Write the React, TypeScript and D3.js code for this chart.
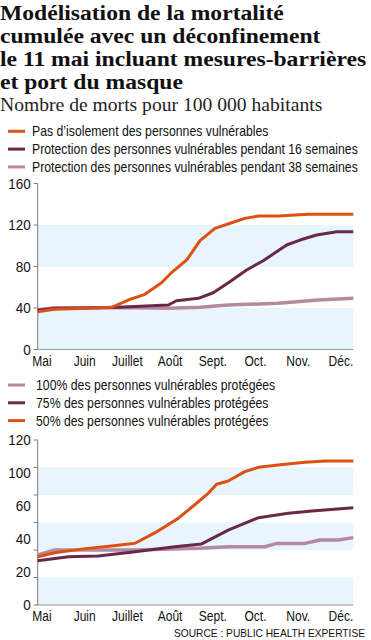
import * as d3 from "d3";

const MONTHS = ["Mai", "Juin", "Juillet", "Août", "Sept.", "Oct.", "Nov.", "Déc."];

// x = month index (0 = Mai), y = deaths per 100 000
const topNoIsolation: [number, number][] = [
  [-0.1, 36.4], [0.3, 38.7], [1.01, 39.7], [1.63, 40.7], [2.02, 47.7], [2.41, 53.2],
  [2.8, 64.4], [3.04, 74.4], [3.39, 86.3], [3.7, 105], [4.05, 116.8], [4.44, 122.2],
  [4.75, 126.4], [5.07, 128.7], [5.53, 128.7], [6.24, 130.3], [7.29, 130.3],
];
const top16Weeks: [number, number][] = [
  [-0.1, 37.8], [0.3, 39.6], [1.63, 40.5], [2.96, 42.9], [3.15, 47], [3.66, 49.3],
  [4.01, 54.7], [4.4, 65.4], [4.79, 76.6], [5.18, 85.6], [5.73, 100.7], [6.04, 105.5],
  [6.43, 110.4], [6.9, 113.5], [7.29, 113.5],
];
const top38Weeks: [number, number][] = [
  [-0.1, 38.3], [0.3, 40.2], [2.2, 40.2], [2.95, 39.8], [3.7, 40.7], [4.36, 42.9],
  [5.53, 44.5], [6.47, 47.7], [7.29, 49.3],
];

const bottom50: [number, number][] = [
  [-0.1, 35.1], [0.3, 38], [1.01, 41], [1.63, 42.9], [2.18, 44.9], [2.65, 52.6],
  [3.19, 63], [3.62, 74], [3.89, 81.2], [4.09, 87.8], [4.36, 90.2], [4.75, 97],
  [5.07, 100.1], [5.53, 101.8], [6.16, 103.8], [6.63, 104.7], [7.29, 104.7],
];
const bottom75: [number, number][] = [
  [-0.1, 32.2], [0.62, 35.1], [1.32, 35.6], [2.18, 38.8], [3.11, 42.4], [3.74, 44.4],
  [4.36, 54.5], [5.07, 63.5], [5.77, 66.7], [6.32, 68.4], [7.29, 70.8],
];
const bottom100: [number, number][] = [
  [-0.1, 36.4], [0.3, 40], [2.18, 40], [3.7, 41.2], [4.36, 42.4], [5.22, 42.4],
  [5.5, 44.8], [6.16, 44.8], [6.51, 47.3], [6.94, 47.3], [7.29, 49],
];

const TOP_TICKS = [0, 40, 80, 120, 160];
const TOP_BANDS: [number, number][] = [[0, 40], [80, 120]];
const BOTTOM_TICKS = [0, 20, 40, 60, 80, 100, 120];
// the printed labels skip 80 and are spread evenly along the axis
const BOTTOM_LABELS = ["0", "20", "40", "60", "100", "120"];
const BOTTOM_BANDS: [number, number][] = [[0, 20], [40, 60], [80, 100]];

const TITLE = [
  "Modélisation de la mortalité",
  "cumulée avec un déconfinement",
  "le 11 mai incluant mesures-barrières",
  "et port du masque",
];
const SUBTITLE = "Nombre de morts pour 100 000 habitants";
const SOURCE = "SOURCE : PUBLIC HEALTH EXPERTISE";

const ORANGE = "#dc5014";
const PURPLE = "#6a2848";
const PINK = "#b48aa0";
const BAND = "#e8f5fd";
const SANS = "'Liberation Sans', Arial, sans-serif";
const SERIF = "'Liberation Serif', 'DejaVu Serif', serif";

type Series = { label: string; color: string; data: [number, number][]; width: number };

const x = d3.scaleLinear().domain([-0.1, 7.29]).range([37.7, 353.3]);

// condensed / widened text: scaled horizontally around its anchor point
function Txt({ x, y, k, size, anchor = "start", family = SANS, weight = "normal", fill = "#111", children }: any) {
  return (
    <text transform={`translate(${x},${y}) scale(${k},1)`} textAnchor={anchor} fontFamily={family}
      fontWeight={weight} fontSize={size} fill={fill}>
      {children}
    </text>
  );
}

function Legend({ items, top, textX }: { items: Series[]; top: number; textX: number }) {
  return (
    <g>
      {items.map((s, i) => (
        <g key={s.label} transform={`translate(0,${top + i * 17.8})`}>
          <line x1={8} x2={25} y1={0} y2={0} stroke={s.color} strokeWidth={3} />
          <Txt x={textX} y={5} k={0.876} size={14}>{s.label}</Txt>
        </g>
      ))}
    </g>
  );
}

function Panel({
  y, ticks, labels, bands, series,
}: {
  y: d3.ScaleLinear<number, number>;
  ticks: number[];
  labels: { text: string; pos: number }[];
  bands: [number, number][];
  series: Series[];
}) {
  const [x0, x1] = x.range();
  const line = d3.line<[number, number]>().x((d) => x(d[0])).y((d) => y(d[1]));
  const base = y.range()[0];
  return (
    <g>
      {bands.map(([a, b]) => (
        <rect key={a} x={x0} y={y(b)} width={x1 - x0} height={y(a) - y(b)} fill={BAND} />
      ))}
      <line x1={x0} x2={x0} y1={y.range()[1]} y2={base} stroke="#7a7a7a" strokeWidth={1} />
      <line x1={x0} x2={x1} y1={base} y2={base} stroke="#9a9a9a" strokeWidth={1} />
      {ticks.map((t) => (
        <line key={t} x1={x0 - 4} x2={x0} y1={y(t)} y2={y(t)} stroke="#7a7a7a" />
      ))}
      {labels.map((l) => (
        <Txt key={l.text} x={x0 - 7} y={l.pos + 5} k={0.9} size={15} anchor="end">{l.text}</Txt>
      ))}
      {MONTHS.map((m, i) => (
        <Txt key={m} x={x(i)} y={base + 16} k={0.8} size={15} anchor="middle">{m}</Txt>
      ))}
      {series.map((s) => (
        <path key={s.label} d={line(s.data) ?? ""} fill="none" stroke={s.color}
          strokeWidth={s.width} strokeLinejoin="round" />
      ))}
    </g>
  );
}

export default function App() {
  const yTop = d3.scaleLinear().domain([0, 160]).range([349.5, 183.5]);
  const yBottom = d3.scaleLinear().domain([0, 120]).range([605, 440]);
  const labelBottom = d3.scalePoint<string>().domain(BOTTOM_LABELS).range([605, 440]);

  const topSeries: Series[] = [
    { label: "Pas d’isolement des personnes vulnérables", color: ORANGE, data: topNoIsolation, width: 3 },
    { label: "Protection des personnes vulnérables pendant 16 semaines", color: PURPLE, data: top16Weeks, width: 3 },
    { label: "Protection des personnes vulnérables pendant 38 semaines", color: PINK, data: top38Weeks, width: 3.5 },
  ];
  const bottomSeries: Series[] = [
    { label: "100% des personnes vulnérables protégées", color: PINK, data: bottom100, width: 3.5 },
    { label: "75% des personnes vulnérables protégées", color: PURPLE, data: bottom75, width: 3 },
    { label: "50% des personnes vulnérables protégées", color: ORANGE, data: bottom50, width: 3 },
  ];
  const order = (c: string) => (c === PINK ? 0 : c === PURPLE ? 1 : 2);
  const drawOrder = (s: Series[]) => [...s].sort((a, b) => order(a.color) - order(b.color));

  return (
    <svg width={371} height={640} style={{ position: "absolute", left: 0, top: 0, background: "#fff" }}>
      {TITLE.map((t, i) => (
        <Txt key={t} x={0} y={19.5 + i * 23} k={1.135} size={20.8} family={SERIF} weight="bold">
          {t}
        </Txt>
      ))}
      <Txt x={0} y={110.8} k={1.09} size={18} family={SERIF} fill="#222">{SUBTITLE}</Txt>

      <Legend items={topSeries} top={131.3} textX={32} />
      <Panel y={yTop} ticks={TOP_TICKS}
        labels={TOP_TICKS.map((t) => ({ text: String(t), pos: yTop(t) }))}
        bands={TOP_BANDS} series={drawOrder(topSeries)} />

      <Legend items={bottomSeries} top={385} textX={36} />
      <Panel y={yBottom} ticks={BOTTOM_TICKS}
        labels={BOTTOM_LABELS.map((t) => ({ text: t, pos: labelBottom(t) ?? 0 }))}
        bands={BOTTOM_BANDS} series={drawOrder(bottomSeries)} />

      <Txt x={365} y={636.5} k={1} size={10.2} anchor="end">{SOURCE}</Txt>
    </svg>
  );
}
